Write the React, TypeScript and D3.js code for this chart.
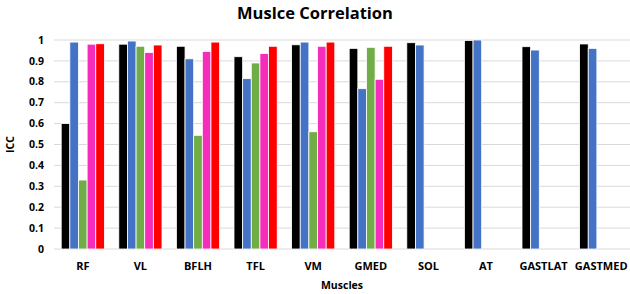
import * as d3 from "d3"
import React = require("react")

const muscles = ["RF", "VL", "BFLH", "TFL", "VM", "GMED", "SOL", "AT", "GASTLAT", "GASTMED"]
const seriesColors = ["#000000", "#4472C4", "#70AD47", "#F52DBA", "#FF0000"]

// one array per series, null = no bar
const s1 = [0.60, 0.98, 0.97, 0.92, 0.977, 0.96, 0.987, 0.998, 0.968, 0.981]
const s2 = [0.99, 0.995, 0.91, 0.815, 0.99, 0.767, 0.976, 1.0, 0.952, 0.96]
const s3 = [0.33, 0.97, 0.544, 0.89, 0.561, 0.965, null, null, null, null]
const s4 = [0.98, 0.94, 0.945, 0.935, 0.97, 0.812, null, null, null, null]
const s5 = [0.982, 0.976, 0.99, 0.97, 0.99, 0.97, null, null, null, null]
const yTicks = [0, 0.1, 0.2, 0.3, 0.4, 0.5, 0.6, 0.7, 0.8, 0.9, 1]

const W = 630
const H = 294
const margin = { top: 40, right: 0, bottom: 45, left: 54 }
const font = "'Open Sans', Arial, sans-serif"

export default function App() {
    const series = [s1, s2, s3, s4, s5]
    const x = d3.scaleBand().domain(muscles).range([margin.left, W - margin.right]).paddingInner(0.25).paddingOuter(0.125)
    const xs = d3.scaleBand().domain(d3.range(5).map(String)).range([0, x.bandwidth()])
    const y = d3.scaleLinear().domain([0, 1]).range([H - margin.bottom, margin.top])

    return (
        <svg width={W} height={H} style={{ position: "absolute", left: 0, top: 0, background: "#fff" }} fontFamily={font}>
            <text x={315} y={19} textAnchor="middle" fontSize={16.5} fontWeight="bold" fill="#000">Muslce Correlation</text>
            {yTicks.map((t) => (
                <g key={t}>
                    <line x1={margin.left} x2={W - margin.right} y1={y(t)} y2={y(t)} stroke="#D9D9D9" strokeWidth={1} />
                    <text x={44} y={y(t)} dy="0.35em" textAnchor="end" fontSize={10.5} fontWeight="bold" fill="#000">{t}</text>
                </g>
            ))}
            {series.map((vals, si) =>
                vals.map((v, i) =>
                    v == null ? null : (
                        <rect key={si + "-" + i}
                            x={x(muscles[i])! + xs(String(si))!}
                            y={y(v)}
                            width={xs.bandwidth()}
                            height={y(0) - y(v)}
                            fill={seriesColors[si]}
                            stroke="#fff" strokeWidth={0.8} />
                    )
                )
            )}
            {muscles.map((m) => (
                <text key={m} x={x(m)! + x.bandwidth() / 2} y={270} textAnchor="middle" fontSize={11} fontWeight="bold" fill="#000">{m}</text>
            ))}
            <text x={W / 2 + 27} y={289} textAnchor="middle" fontSize={10.5} fontWeight="bold" fill="#000">Muscles</text>
            <text transform={`translate(14, ${(margin.top + H - margin.bottom) / 2}) rotate(-90)`} textAnchor="middle" fontSize={10.5} fontWeight="bold" fill="#000">ICC</text>
        </svg>
    )
}
